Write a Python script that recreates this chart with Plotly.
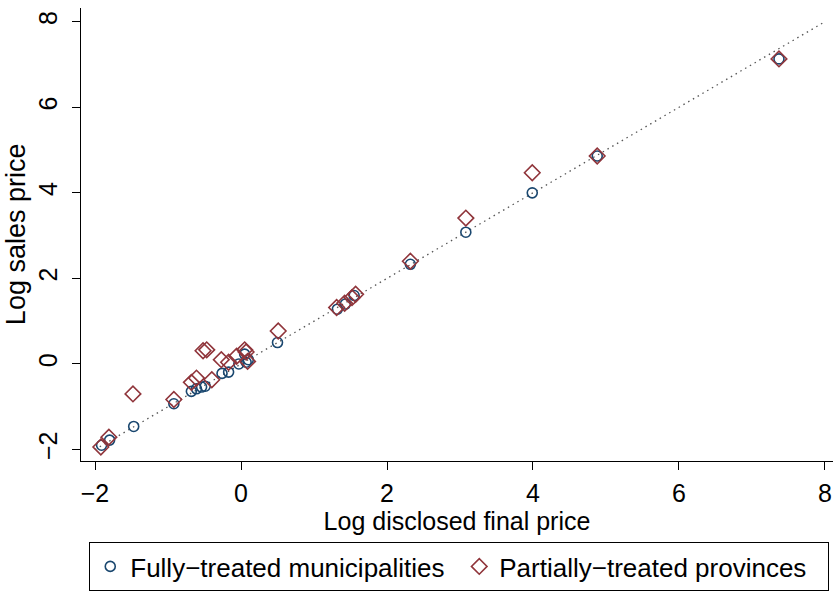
import plotly.graph_objects as go

# Fully-treated municipalities: (log disclosed final price, log sales price)
x_full = [-1.91, -1.80, -1.47, -0.92, -0.68, -0.61, -0.54, -0.49, -0.26, -0.17,
          -0.03, 0.05, 0.07, 0.10, 0.50, 1.32, 1.43, 1.55, 2.32, 3.08, 3.99, 4.88, 7.37]
y_full = [-1.90, -1.78, -1.46, -0.93, -0.64, -0.58, -0.54, -0.52, -0.22, -0.19,
          0.00, 0.23, 0.04, 0.10, 0.50, 1.28, 1.40, 1.60, 2.33, 3.08, 4.00, 4.86, 7.13]

# Partially-treated provinces
x_part = [-1.92, -1.81, -1.48, -0.92, -0.68, -0.61, -0.52, -0.47, -0.40, -0.27,
          -0.17, -0.06, 0.05, 0.07, 0.09, 0.51, 1.31, 1.42, 1.52, 1.57, 2.32, 3.08,
          3.99, 4.88, 7.37]
y_part = [-1.94, -1.71, -0.70, -0.83, -0.43, -0.33, 0.31, 0.33, -0.37, 0.10,
          0.04, 0.18, 0.33, 0.28, 0.06, 0.77, 1.32, 1.42, 1.55, 1.63, 2.40, 3.41,
          4.47, 4.86, 7.13]

# 45-degree reference line
ref_line = [-2, 8]

tick_vals = [-2, 0, 2, 4, 6, 8]
tick_text = ["\u22122", "0", "2", "4", "6", "8"]

NAVY = "#1a476f"
MAROON = "#90353b"
FONT = "Liberation Sans, Arial, sans-serif"

W, H = 836, 591
TOP = 8
PLOT_BOTTOM_PX = 463          # pixel row of the x-axis line
LEGEND_TOP_PX = 545           # pixel row of the legend frame's top edge
paper_h = H - TOP
y_dom_low = (H - PLOT_BOTTOM_PX) / paper_h
legend_y = (H - LEGEND_TOP_PX) / paper_h

fig = go.Figure()

fig.add_trace(go.Scatter(
    x=ref_line, y=ref_line, mode="lines",
    line=dict(color="#555555", width=1.3, dash="1.5px,4px"),
    showlegend=False, hoverinfo="skip",
))

fig.add_trace(go.Scatter(
    x=x_full, y=y_full, mode="markers",
    name="Fully\u2212treated municipalities",
    marker=dict(symbol="circle-open", size=10, color=NAVY, line=dict(width=1.6, color=NAVY)),
))

fig.add_trace(go.Scatter(
    x=x_part, y=y_part, mode="markers",
    name="Partially\u2212treated provinces",
    marker=dict(symbol="diamond-open", size=12, color=MAROON, line=dict(width=1.6, color=MAROON)),
))

axis_common = dict(
    showgrid=False, zeroline=False, showline=True, linecolor="#000000", linewidth=1,
    ticks="outside", ticklen=8, tickwidth=1, tickcolor="#000000",
    tickmode="array", tickvals=tick_vals, ticktext=tick_text,
    tickfont=dict(family=FONT, size=25, color="#000000"),
    mirror=False, automargin=False,
)

fig.update_layout(
    width=W, height=H,
    margin=dict(l=81, r=3, t=TOP, b=0),
    paper_bgcolor="white", plot_bgcolor="white",
    font=dict(family=FONT, size=25, color="#000000"),
    xaxis=dict(
        **axis_common, range=[-2.192, 8.11], ticklabelstandoff=2,
        title=dict(text="Log disclosed final price", font=dict(family=FONT, size=25), standoff=0),
    ),
    yaxis=dict(
        **axis_common, range=[-2.26, 8.32], tickangle=-90, ticklabelstandoff=5,
        domain=[y_dom_low, 1],
        title=dict(text="Log sales price", font=dict(family=FONT, size=27), standoff=0),
    ),
    legend=dict(
        orientation="h", x=0.503, xanchor="center", y=legend_y, yanchor="top",
        bordercolor="#000000", borderwidth=1, bgcolor="white",
        font=dict(family=FONT, size=26), itemwidth=30,
        entrywidth=324, entrywidthmode="pixels",
    ),
)

fig.write_html("out.html")
